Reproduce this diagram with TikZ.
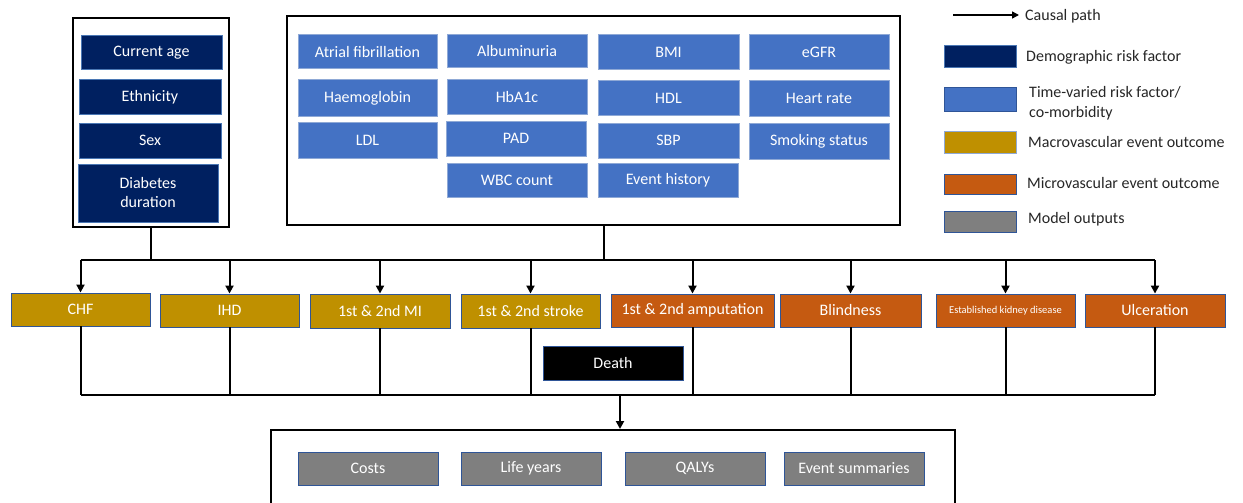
\documentclass[tikz,border=0pt]{standalone}
\usepackage{fontspec}
\setmainfont{Carlito}
\usetikzlibrary{arrows.meta}
\definecolor{navy}{HTML}{002060}
\definecolor{navyb}{HTML}{4A77B4}
\definecolor{tvb}{HTML}{4472C4}
\definecolor{tvbd}{HTML}{8FA9D6}
\definecolor{gold}{HTML}{BF9000}
\definecolor{rust}{HTML}{C55A11}
\definecolor{grey}{HTML}{7F7F7F}
\definecolor{edge}{HTML}{2F5597}
\definecolor{txt}{HTML}{262626}
\newcommand\bx[7]{\node[#6,minimum width={(#4-#2)*1pt},minimum height={(#5-#3)*1pt}] (#1) at ({(#2+#4)/2},{(#3+#5)/2+1}) {#7};}
\tikzset{
  base/.style={rectangle,inner sep=0pt,text=white,font=\fontsize{16}{19}\selectfont,align=center},
  outer/.style={rectangle,inner sep=0pt,draw=black,line width=2pt,fill=white},
  demo/.style={base,fill=navy,draw=navyb,line width=1pt},
  tv/.style={base,fill=tvb,draw=tvbd,line width=1pt},
  macro/.style={base,fill=gold,draw=edge,line width=0.9pt},
  micro/.style={base,fill=rust,draw=edge,line width=0.9pt},
  outp/.style={base,fill=grey,draw=edge,line width=0.9pt},
  death/.style={base,fill=black,draw=edge,line width=0.9pt},
  conn/.style={draw=black,line width=2pt},
  arr/.style={conn,-{Triangle[length=8pt,width=8pt]}},
  legtxt/.style={anchor=west,inner sep=0pt,text=txt,font=\fontsize{16}{20}\selectfont,align=left}
}
\begin{document}
\begin{tikzpicture}[x=1pt,y=-1pt]
\useasboundingbox (0,0) rectangle (1243,503);
% outer boxes
\node[outer,minimum width=156pt,minimum height=209pt] (L) at (151,122.5) {};
\node[outer,minimum width=613pt,minimum height=209pt] (M) at (593.5,120.5) {};
\node[outer,minimum width=684pt,minimum height=100pt] (O) at (613,480) {};
% demographic
\bx{age}{81}{35}{222}{69}{demo}{Current age}
\bx{eth}{79}{79}{221}{113}{demo}{Ethnicity}
\bx{sex}{79}{122}{221}{157}{demo}{Sex}
\bx{dur}{78}{163}{218}{221}{demo}{Diabetes\\duration}
% time-varied
\bx{af}{298}{34}{437}{68}{tv}{Atrial fibrillation}
\bx{hb}{298}{79}{437}{115}{tv}{Haemoglobin}
\bx{ldl}{298}{121}{437}{157}{tv}{LDL}
\bx{alb}{447}{34}{587}{67}{tv}{Albuminuria}
\bx{hba}{447}{79}{587}{113}{tv}{HbA1c}
\bx{pad}{446}{120}{586}{155}{tv}{PAD}
\bx{wbc}{447}{162}{587}{196}{tv}{WBC count}
\bx{bmi}{598}{34}{739}{69}{tv}{BMI}
\bx{hdl}{598}{80}{739}{114}{tv}{HDL}
\bx{sbp}{598}{122}{739}{157}{tv}{SBP}
\bx{evh}{598}{162}{738}{196}{tv}{Event history}
\bx{egfr}{749}{34}{889}{69}{tv}{eGFR}
\bx{hr}{749}{80}{889}{115}{tv}{Heart rate}
\bx{smk}{749}{122}{889}{158}{tv}{Smoking status}
% outcomes
\bx{chf}{11}{292}{150}{325}{macro}{CHF}
\bx{ihd}{160}{293}{299}{326}{macro}{IHD}
\bx{mi}{310}{293}{450}{327}{macro}{1st \& 2nd MI}
\bx{stk}{461}{293}{600}{327}{macro}{1st \& 2nd stroke}
\bx{amp}{611}{293}{774}{326}{micro}{1st \& 2nd amputation}
\bx{bld}{780}{293}{921}{326}{micro}{Blindness}
\bx{ckd}{936}{293}{1075}{326}{micro,font=\fontsize{10.5}{12}\selectfont}{Established kidney disease}
\bx{ulc}{1085}{293}{1225}{326}{micro}{Ulceration}
\bx{dth}{543}{345}{683}{379}{death}{Death}
% outputs
\bx{cst}{298}{451}{438}{484}{outp}{Costs}
\bx{ly}{461}{451}{601}{484}{outp}{Life years}
\bx{qaly}{625}{451}{765}{484}{outp}{QALYs}
\bx{evs}{784}{451}{924}{484}{outp}{Event summaries}
% connectors
\coordinate (tl) at (0,260);
\coordinate (mj) at (604,260);
\coordinate (bl) at (0,395);
\coordinate (oj) at (620,395);
\draw[conn] (L.south) -- (L.south |- tl);
\draw[conn] (M.south -| mj) -- (mj);
\draw[conn] (chf.north |- tl) -- (ulc.north |- tl);
\foreach \n in {chf,ihd,mi,stk,amp,bld,ckd,ulc}{
  \draw[arr] (\n.north |- tl) -- (\n.north);
  \draw[conn] (\n.south) -- (\n.south |- bl);
}
\draw[conn] (chf.south |- bl) -- (ulc.south |- bl);
\draw[arr] (oj) -- (O.north -| oj);
% legend
\coordinate (la) at (953,15);
\coordinate (lb) at (1019,15);
\draw[conn,line width=1.4pt,-{Triangle[length=7pt,width=7pt]}] (la) -- (lb);
\node[legtxt] (lc) at (1025,16) {Causal path};
\bx{k1}{944}{45}{1016}{67}{demo}{}
\node[legtxt] (t1) at (1026,57) {Demographic risk factor};
\bx{k2}{944}{87}{1016}{110}{tv,draw=edge}{}
\node[legtxt] (t2) at (1029,103) {Time-varied risk factor/\\co-morbidity};
\bx{k3}{944}{130}{1016}{152}{macro,draw=tvbd}{}
\node[legtxt] (t3) at (1028,142) {Macrovascular event outcome};
\bx{k4}{944}{173}{1016}{193}{micro}{}
\node[legtxt] (t4) at (1027,183) {Microvascular event outcome};
\bx{k5}{944}{210}{1016}{231}{outp}{}
\node[legtxt] (t5) at (1028,219) {Model outputs};
\end{tikzpicture}
\end{document}
